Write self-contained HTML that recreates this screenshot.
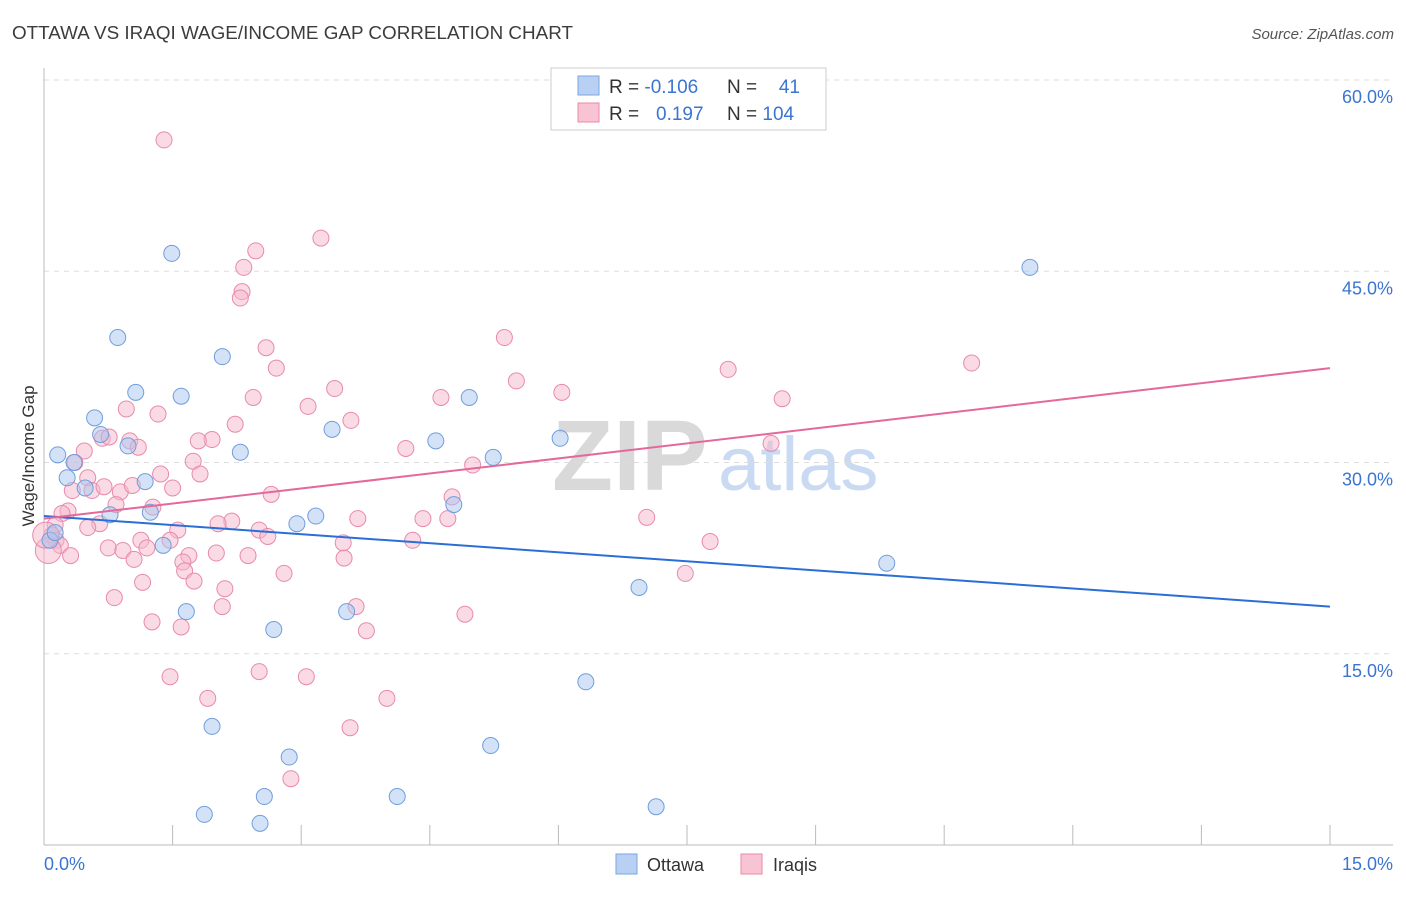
<!DOCTYPE html>
<html><head><meta charset="utf-8"><style>
body{margin:0;background:#fff;font-family:"Liberation Sans",sans-serif;}
svg text{font-family:"Liberation Sans",sans-serif;}
</style></head><body>
<svg id="chart" width="1406" height="892" xmlns="http://www.w3.org/2000/svg">
<text x="12" y="39" font-size="18" fill="#3c3c3c" textLength="561" lengthAdjust="spacingAndGlyphs">OTTAWA VS IRAQI WAGE/INCOME GAP CORRELATION CHART</text>
<text x="1394" y="39" font-size="15" fill="#555" font-style="italic" text-anchor="end">Source: ZipAtlas.com</text>
<g>
<text x="552" y="490" font-size="100" fill="#d9d9d9" font-family="Liberation Serif" font-weight="bold">ZIP</text>
<text x="718" y="490" font-size="76" fill="#c9daf2">atlas</text>
</g>
<g id="grid"></g>
<g id="axes"></g>
<g id="pts"></g>
<g id="trends"></g>
<text transform="translate(34,456) rotate(-90)" font-size="17" fill="#333" text-anchor="middle">Wage/Income Gap</text>
<g>
<rect x="551" y="68" width="275" height="62" fill="#fff" stroke="#ccc"/>
<rect x="578" y="76" width="21" height="19" fill="#b8d0f3" stroke="#7aa7e0"/>
<rect x="578" y="103" width="21" height="19" fill="#f8c3d3" stroke="#e88aab"/>
<text x="609" y="93" font-size="19" fill="#333">R = <tspan fill="#3a75d0">-0.106</tspan></text>
<text x="727" y="93" font-size="19" fill="#333">N =</text>
<text x="800" y="93" font-size="19" fill="#3a75d0" text-anchor="end">41</text>
<text x="609" y="120" font-size="19" fill="#333">R = </text>
<text x="656" y="120" font-size="19" fill="#3a75d0">0.197</text>
<text x="727" y="120" font-size="19" fill="#333">N = <tspan fill="#3a75d0">104</tspan></text>
</g>
<g>
<rect x="616" y="854" width="21" height="20" fill="#b8d0f3" stroke="#7aa7e0"/>
<text x="647" y="871" font-size="18" fill="#333">Ottawa</text>
<rect x="741" y="854" width="21" height="20" fill="#f8c3d3" stroke="#e88aab"/>
<text x="773" y="871" font-size="18" fill="#333">Iraqis</text>
</g>
</svg>
<script>
const yTicks=[15,30,45,60];
const yTickLabels=["15.0%","30.0%","45.0%","60.0%"];
const xTickLabels=["0.0%","15.0%"];
const ottawaX=[1.49,0.86,2.08,1.07,1.60,4.96,0.59,0.66,3.36,0.98,0.16,2.29,4.57,6.02,5.24,0.35,0.27,1.18,0.48,0.77,1.24,2.95,3.17,4.78,1.39,0.07,0.13,1.66,3.53,2.68,6.94,9.83,11.50,6.32,1.96,2.86,5.21,2.57,4.12,1.87,2.52,7.14];
const ottawaY=[46.4,39.8,38.3,35.5,35.2,35.1,33.5,32.2,32.6,31.3,30.6,30.8,31.7,31.9,30.4,30.0,28.8,28.5,28.0,25.9,26.1,25.2,25.8,26.7,23.5,23.9,24.5,18.3,18.3,16.9,20.2,22.1,45.3,12.8,9.3,6.9,7.8,3.8,3.8,2.4,1.7,3.0];
const iraqiX=[1.40,3.23,2.47,2.33,2.31,2.29,5.37,2.59,2.71,5.51,3.39,6.04,7.98,10.82,2.44,4.63,8.61,0.96,1.33,3.08,3.58,2.23,0.68,0.76,1.00,1.10,1.96,1.80,4.22,0.47,8.48,0.36,1.74,1.36,1.82,5.00,0.51,0.56,0.70,0.89,1.50,1.03,2.65,4.76,0.33,0.84,1.27,0.28,0.21,0.65,0.51,2.19,2.03,2.51,2.61,1.56,4.71,4.42,3.66,7.03,0.13,0.09,0.14,0.19,4.30,3.49,1.47,1.13,1.20,0.75,0.92,0.31,1.05,2.38,1.69,2.01,7.77,3.50,1.62,1.64,1.75,2.11,2.80,1.15,7.48,0.82,2.08,3.64,4.91,1.26,1.60,3.76,1.47,2.51,3.06,1.91,4.00,3.57,2.88,0.05,0.02];
const iraqiY=[55.3,47.6,46.6,45.3,43.4,42.9,39.8,39.0,37.4,36.4,35.8,35.5,37.3,37.8,35.1,35.1,35.0,34.2,33.8,34.4,33.3,33.0,31.9,32.0,31.7,31.2,31.8,31.7,31.1,30.9,31.5,30.0,30.1,29.1,29.1,29.8,28.8,27.8,28.1,27.7,28.0,28.2,27.5,27.3,27.8,26.7,26.5,26.2,26.0,25.2,24.9,25.4,25.2,24.7,24.2,24.7,25.6,25.6,25.6,25.7,25.1,24.3,23.9,23.5,23.9,23.7,23.9,23.9,23.3,23.3,23.1,22.7,22.4,22.7,22.7,22.9,23.8,22.5,22.2,21.5,20.7,20.1,21.3,20.6,21.3,19.4,18.7,18.7,18.1,17.5,17.1,16.8,13.2,13.6,13.2,11.5,11.5,9.2,5.2,23.1,24.3];
const trendX=[0,15];
const ottawaTrend=[25.8,18.7];
const iraqiTrend=[25.6,37.4];

const NS="http://www.w3.org/2000/svg";
const sx=v=>44+v*(1286/15);
const sy=v=>845-v*12.75;
function mk(tag,attrs,parent){const e=document.createElementNS(NS,tag);for(const k in attrs)e.setAttribute(k,attrs[k]);parent.appendChild(e);return e;}
const grid=document.getElementById('grid'),axes=document.getElementById('axes'),pts=document.getElementById('pts'),tr=document.getElementById('trends');
yTicks.forEach((t,i)=>{
 const l=mk('line',{x1:44,x2:1393,y1:sy(t),y2:sy(t),stroke:'#ddd','stroke-dasharray':'5,5'},grid);
 
 
 const tx=mk('text',{x:1393,y:sy(t)+23,'font-size':18,fill:'#3a75d0','text-anchor':'end'},axes);
 tx.textContent=yTickLabels[i];
 
 
});
let a=mk('line',{x1:44,x2:44,y1:68,y2:845,stroke:'#bbb'},axes);


a=mk('line',{x1:44,x2:1393,y1:845,y2:845,stroke:'#bbb'},axes);


for(let i=0;i<=10;i++){const v=i*1.5;
 const t=mk('line',{x1:sx(v),x2:sx(v),y1:825,y2:845,stroke:'#bbb'},axes);
 
 
}
[[0,'start',44],[15,'end',1393]].forEach((d,i)=>{
 const t=mk('text',{x:d[2],y:870,'font-size':18,fill:'#3a75d0','text-anchor':d[1]},axes);
 t.textContent=xTickLabels[i];
 
 
});
function drawPts(X,Y,fill,stroke,name){
 X.forEach((x,i)=>{
  const big=(x<0.06);
  const c=mk('circle',{cx:sx(x),cy:sy(Y[i]),r:big?13:8,fill:fill,'fill-opacity':0.5,stroke:stroke,'stroke-width':1},pts);
  
  
 });
}
drawPts(iraqiX,iraqiY,'#f5b8cc','#e88aab','iraqi-point');
drawPts(ottawaX,ottawaY,'#a8c6f0','#6f9edd','ottawa-point');
let L=mk('line',{x1:sx(trendX[0]),y1:sy(ottawaTrend[0]),x2:sx(trendX[1]),y2:sy(ottawaTrend[1]),stroke:'#2a6fd6','stroke-width':2},tr);


L=mk('line',{x1:sx(trendX[0]),y1:sy(iraqiTrend[0]),x2:sx(trendX[1]),y2:sy(iraqiTrend[1]),stroke:'#e4699a','stroke-width':2},tr);


</script>
</body></html>
